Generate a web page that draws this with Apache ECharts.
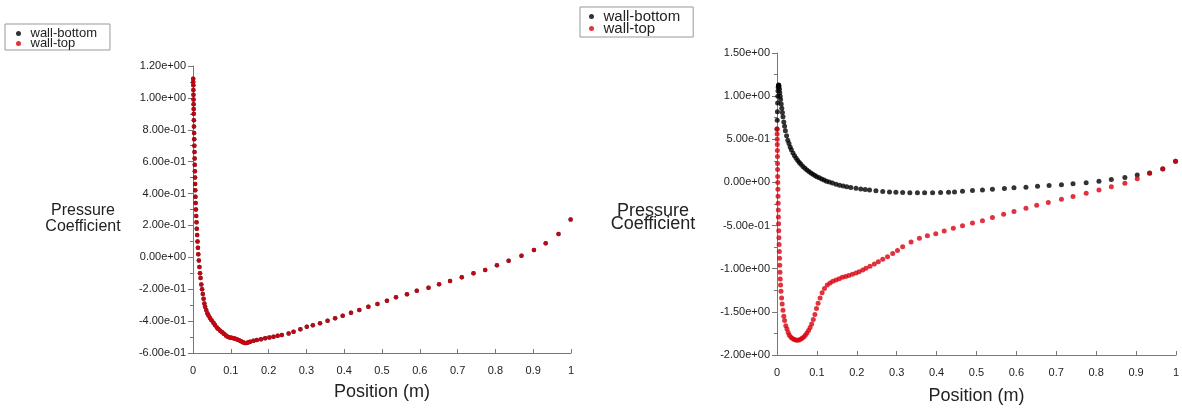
<!DOCTYPE html>
<html>
<head>
<meta charset="utf-8">
<script src="https://cdn.jsdelivr.net/npm/echarts@6/dist/echarts.min.js"></script>
<style>
  html, body { margin: 0; padding: 0; background: #fff; }
  #main { width: 1182px; height: 410px; }
</style>
</head>
<body>
<div id="main"></div>
<script>
// left plot: both walls give the same curve, wall-top is drawn on top
var leftTop = [
  [0.0005,1.12],[0.0006,1.10],[0.0008,1.08],[0.001,1.05],[0.0012,1.02],[0.0014,0.99],
  [0.0016,0.96],[0.0018,0.93],[0.002,0.90],[0.0023,0.86],[0.0026,0.82],[0.003,0.78],
  [0.0033,0.74],[0.0036,0.70],[0.004,0.66],[0.0043,0.62],[0.0046,0.58],[0.005,0.54],
  [0.0053,0.50],[0.0056,0.46],[0.006,0.42],[0.0065,0.38],[0.007,0.34],[0.0077,0.30],
  [0.0085,0.26],[0.0093,0.22],[0.010,0.18],[0.011,0.14],[0.012,0.10],[0.013,0.06],
  [0.014,0.02],[0.0155,-0.02],[0.017,-0.06],[0.0185,-0.10],[0.020,-0.13],[0.022,-0.17],
  [0.024,-0.20],[0.026,-0.23],[0.028,-0.26],[0.030,-0.29],[0.032,-0.31],[0.035,-0.33],
  [0.038,-0.35],[0.041,-0.365],[0.045,-0.38],[0.049,-0.395],[0.054,-0.41],[0.058,-0.425],
  [0.063,-0.44],[0.067,-0.45],[0.072,-0.46],[0.077,-0.47],[0.082,-0.48],[0.087,-0.49],
  [0.092,-0.498],[0.097,-0.503],[0.102,-0.505],[0.107,-0.507],[0.112,-0.51],[0.117,-0.515],
  [0.122,-0.52],[0.127,-0.527],[0.132,-0.533],[0.137,-0.537],[0.142,-0.537],[0.147,-0.533],
  [0.151,-0.529],[0.160,-0.523],[0.169,-0.518],[0.180,-0.513],[0.191,-0.508],[0.202,-0.503],
  [0.213,-0.498],[0.224,-0.492],[0.235,-0.487],[0.253,-0.477],[0.266,-0.466],[0.284,-0.451],
  [0.301,-0.435],[0.317,-0.426],[0.336,-0.414],[0.356,-0.397],[0.376,-0.382],[0.396,-0.366],
  [0.418,-0.347],[0.440,-0.330],[0.464,-0.310],[0.488,-0.293],[0.513,-0.272],[0.537,-0.251],
  [0.566,-0.232],[0.592,-0.209],[0.623,-0.191],[0.651,-0.169],[0.680,-0.149],[0.711,-0.125],
  [0.742,-0.100],[0.773,-0.080],[0.804,-0.050],[0.835,-0.021],[0.869,0.010],[0.902,0.046],
  [0.933,0.088],[0.967,0.146],[0.999,0.238]
];

// right plot
var rightBottom = [
  [0,0.62],[0.0005,0.72],[0.001,0.82],[0.0015,0.92],[0.002,1.00],[0.0025,1.06],
  [0.003,1.10],[0.0035,1.12],[0.004,1.13],[0.0045,1.125],[0.005,1.11],[0.006,1.08],
  [0.007,1.04],[0.008,1.00],[0.009,0.96],[0.0105,0.91],[0.012,0.86],[0.0135,0.81],
  [0.015,0.76],[0.017,0.70],[0.019,0.65],[0.021,0.60],[0.024,0.54],[0.027,0.49],
  [0.030,0.45],[0.033,0.41],[0.036,0.38],[0.040,0.34],[0.044,0.31],[0.048,0.28],
  [0.052,0.255],[0.056,0.23],[0.060,0.21],[0.065,0.185],[0.070,0.165],[0.075,0.145],
  [0.080,0.127],[0.085,0.11],[0.090,0.095],[0.095,0.08],[0.100,0.067],[0.106,0.054],
  [0.112,0.040],[0.118,0.027],[0.124,0.015],[0.131,0.004],[0.139,-0.008],[0.148,-0.020],
  [0.157,-0.032],[0.166,-0.042],[0.175,-0.051],[0.185,-0.060],[0.198,-0.068],[0.210,-0.076],
  [0.221,-0.083],[0.232,-0.088],[0.248,-0.097],[0.265,-0.104],[0.282,-0.110],[0.298,-0.115],
  [0.315,-0.118],[0.333,-0.120],[0.352,-0.120],[0.370,-0.120],[0.390,-0.120],[0.410,-0.118],
  [0.430,-0.115],[0.445,-0.110],[0.465,-0.102],[0.490,-0.094],[0.515,-0.087],[0.540,-0.079],
  [0.570,-0.070],[0.594,-0.062],[0.624,-0.055],[0.653,-0.045],[0.682,-0.037],[0.713,-0.027],
  [0.742,-0.016],[0.775,-0.003],[0.807,0.015],[0.838,0.035],[0.872,0.058],[0.903,0.085],
  [0.934,0.110],[0.967,0.155],[0.999,0.245]
];

var rightTop = [
  [0,0.62],[0.0003,0.56],[0.0005,0.50],[0.0007,0.44],[0.0009,0.37],[0.0011,0.30],
  [0.0013,0.22],[0.0015,0.15],[0.0017,0.07],[0.002,0.00],[0.0023,-0.08],[0.0026,-0.16],
  [0.003,-0.24],[0.0033,-0.32],[0.0036,-0.40],[0.004,-0.48],[0.0044,-0.56],[0.0048,-0.64],
  [0.0053,-0.72],[0.0058,-0.80],[0.0063,-0.88],[0.0069,-0.96],[0.0075,-1.04],[0.0082,-1.12],
  [0.009,-1.19],[0.010,-1.26],[0.0115,-1.34],[0.013,-1.41],[0.015,-1.48],[0.017,-1.55],
  [0.019,-1.60],[0.022,-1.66],[0.025,-1.70],[0.028,-1.74],[0.031,-1.77],[0.035,-1.795],
  [0.039,-1.81],[0.043,-1.82],[0.047,-1.827],[0.051,-1.828],[0.055,-1.825],[0.059,-1.817],
  [0.063,-1.805],[0.067,-1.79],[0.071,-1.77],[0.075,-1.745],[0.079,-1.715],[0.083,-1.68],
  [0.087,-1.64],[0.091,-1.59],[0.095,-1.53],[0.099,-1.46],[0.103,-1.40],[0.108,-1.34],
  [0.113,-1.28],[0.119,-1.23],[0.126,-1.19],[0.133,-1.165],[0.140,-1.145],[0.148,-1.13],
  [0.156,-1.115],[0.164,-1.10],[0.172,-1.09],[0.180,-1.078],[0.189,-1.065],[0.198,-1.05],
  [0.206,-1.035],[0.215,-1.015],[0.223,-0.995],[0.233,-0.97],[0.244,-0.945],[0.254,-0.92],
  [0.265,-0.89],[0.277,-0.86],[0.290,-0.825],[0.302,-0.79],[0.315,-0.745],[0.336,-0.69],
  [0.357,-0.648],[0.377,-0.618],[0.398,-0.595],[0.419,-0.562],[0.442,-0.532],[0.465,-0.502],
  [0.490,-0.471],[0.515,-0.445],[0.540,-0.406],[0.568,-0.368],[0.594,-0.337],[0.624,-0.298],
  [0.651,-0.264],[0.680,-0.233],[0.713,-0.195],[0.742,-0.164],[0.775,-0.126],[0.807,-0.088],
  [0.838,-0.049],[0.872,-0.010],[0.903,0.044],[0.934,0.105],[0.967,0.159],[0.999,0.246]
];

var legendNames = ['wall-bottom', 'wall-top'];
var RED = '#d8000f';
var BLACK = '#000';

function sci(v) {
  var p = Number(v).toExponential(2).split('e');
  var e = parseInt(p[1], 10);
  var a = Math.abs(e);
  return p[0] + 'e' + (e < 0 ? '-' : '+') + (a < 10 ? '0' : '') + a;
}

var font = 'Arial, "Liberation Sans", sans-serif';

function xAxisCfg(idx, nameSize, nameGap) {
  return {
    gridIndex: idx, type: 'value', min: 0, max: 1, interval: 0.1,
    name: 'Position (m)', nameLocation: 'middle', nameGap: nameGap,
    nameTextStyle: { fontSize: nameSize, color: '#222', fontFamily: font },
    axisLine: { onZero: false, lineStyle: { color: '#777' } },
    axisTick: { inside: true, length: 4, lineStyle: { color: '#777' } },
    axisLabel: { margin: 12, fontSize: 11, color: '#222', fontFamily: font,
      formatter: function (v) { return String(+v.toFixed(1)); } },
    splitLine: { show: false }
  };
}

function yAxisCfg(idx, min, max, step) {
  return {
    gridIndex: idx, type: 'value', min: min, max: max, interval: step,
    axisLine: { show: true, onZero: false, lineStyle: { color: '#777' } },
    axisTick: { show: true, length: 5, lineStyle: { color: '#777' } },
    minorTick: { show: true, splitNumber: 2, length: 3, lineStyle: { color: '#777' } },
    axisLabel: { margin: 7, fontSize: 11, color: '#222', fontFamily: font, formatter: sci },
    splitLine: { show: false }
  };
}

function legendCfg(left, top, size, padding) {
  return {
    data: legendNames, orient: 'vertical', left: left, top: top,
    icon: 'circle', itemWidth: 14, itemHeight: 5, itemGap: -3,
    padding: padding, borderColor: '#999', borderWidth: 1, backgroundColor: '#fff',
    textStyle: { fontSize: size, color: '#222', fontFamily: font }
  };
}

var chart = echarts.init(document.getElementById('main'));
chart.setOption({
  animation: false,
  legend: [
    legendCfg(5, 24, 13, [3, 13, 0, 11]),
    legendCfg(580, 7, 15, [2, 13, 1, 9])
  ],
  grid: [
    { left: 193, right: 611, top: 66, bottom: 57 },
    { left: 777, right: 5, top: 53, bottom: 53 }
  ],
  xAxis: [xAxisCfg(0, 18, 30), xAxisCfg(1, 18, 32)],
  yAxis: [yAxisCfg(0, -0.6, 1.2, 0.2), yAxisCfg(1, -2, 1.5, 0.5)],
  // y axis titles, two centred lines left of each plot
  graphic: [
    { type: 'text', x: 83, y: 218.5,
      style: { text: 'Pressure\nCoefficient', fill: '#222', font: '16px ' + font,
        lineHeight: 16, align: 'center', verticalAlign: 'middle' } },
    { type: 'text', x: 653, y: 218,
      style: { text: 'Pressure\nCoefficient', fill: '#222', font: '18px ' + font,
        lineHeight: 13, align: 'center', verticalAlign: 'middle' } }
  ],
  series: [
    { name: 'wall-bottom', type: 'scatter', xAxisIndex: 0, yAxisIndex: 0,
      symbolSize: 4.5, itemStyle: { color: BLACK }, data: leftTop },
    { name: 'wall-top', type: 'scatter', xAxisIndex: 0, yAxisIndex: 0,
      symbolSize: 4.5, itemStyle: { color: RED }, data: leftTop },
    { name: 'wall-bottom', type: 'scatter', xAxisIndex: 1, yAxisIndex: 1,
      symbolSize: 5, itemStyle: { color: BLACK }, data: rightBottom },
    { name: 'wall-top', type: 'scatter', xAxisIndex: 1, yAxisIndex: 1,
      symbolSize: 5, itemStyle: { color: RED }, data: rightTop }
  ]
});
</script>
</body>
</html>
